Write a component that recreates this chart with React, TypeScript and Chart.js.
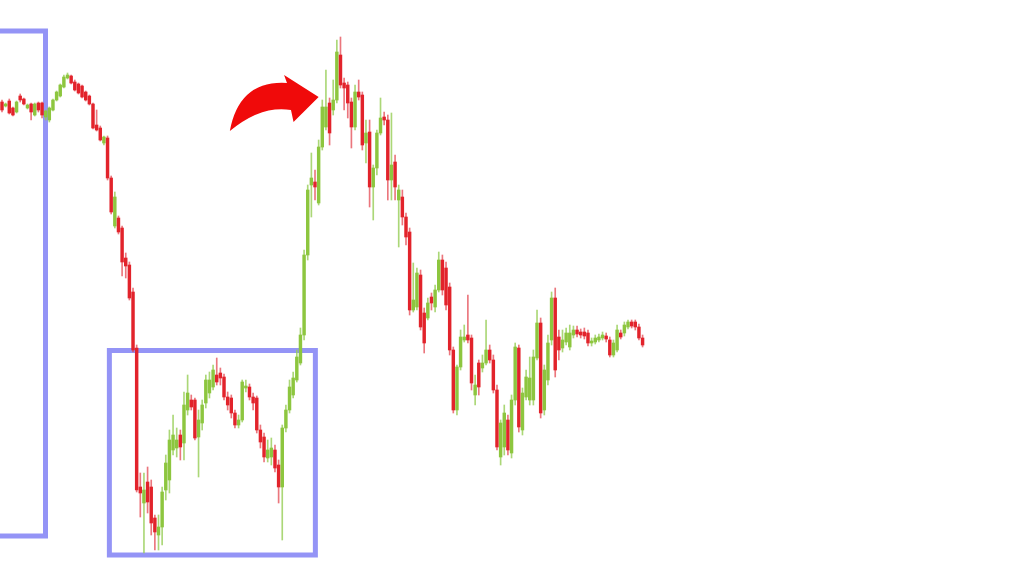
import { useEffect, useRef } from "react";
import { Chart, registerables } from "chart.js";

Chart.register(...registerables);

// Candle values (price units), left to right
const opens = [
  468, 464, 469, 462, 458, 474, 471, 462, 466, 455, 467, 467, 453, 450, 460, 470, 474, 483, 492, 494,
  488, 486, 484, 478, 474, 466, 445, 442, 427, 432, 392, 344, 352, 342, 312, 305, 278, 222, 83, 67,
  88, 83, 52, 35, 43, 80, 90, 120, 122, 135, 127, 160, 170, 170, 133, 147, 167, 177, 183, 195,
  197, 193, 173, 172, 157, 145, 150, 182, 183, 173, 172, 140, 133, 112, 113, 120, 105, 83, 142, 160,
  175, 190, 207, 235, 315, 385, 388, 367, 423, 443, 467, 460, 470, 515, 487, 485, 468, 443, 478, 475,
  427, 438, 383, 402, 437, 453, 450, 390, 408, 370, 373, 353, 338, 260, 263, 295, 257, 252, 273, 263,
  280, 310, 302, 283, 220, 160, 203, 230, 235, 232, 175, 207, 202, 207, 220, 210, 180, 113, 123, 150,
  117, 170, 222, 140, 173, 170, 170, 212, 247, 160, 190, 230, 272, 233, 222, 228, 223, 235, 240, 238,
  238, 237, 227, 228, 230, 232, 234, 230, 215, 220, 237, 237, 243, 248, 248, 243, 232,
];
const highs = [
  470, 467, 471, 463, 469, 476, 472, 466, 467, 467, 468, 468, 460, 463, 471, 479, 486, 495, 497, 495,
  490, 487, 485, 479, 475, 467, 460, 444, 434, 434, 394, 378, 354, 344, 317, 308, 282, 225, 97, 97,
  103, 90, 55, 55, 83, 115, 140, 155, 142, 140, 178, 195, 175, 172, 160, 170, 195, 198, 205, 212,
  202, 196, 178, 175, 160, 155, 190, 190, 186, 177, 174, 145, 137, 130, 132, 125, 110, 145, 165, 190,
  198, 220, 242, 320, 385, 417, 400, 430, 470, 500, 472, 490, 530, 533, 492, 488, 472, 485, 490, 478,
  450, 450, 405, 440, 472, 458, 455, 457, 415, 385, 380, 357, 342, 307, 302, 300, 262, 272, 277, 285,
  318, 315, 308, 287, 223, 205, 240, 245, 275, 235, 195, 210, 215, 250, 225, 215, 185, 150, 165, 155,
  175, 227, 225, 182, 200, 213, 220, 260, 252, 205, 235, 278, 282, 240, 240, 242, 245, 244, 244, 241,
  242, 240, 232, 235, 236, 238, 237, 233, 230, 245, 240, 248, 250, 250, 250, 246, 235,
];
const lows = [
  458, 463, 456, 454, 457, 468, 465, 461, 450, 454, 458, 452, 450, 448, 459, 469, 473, 482, 491, 486,
  479, 476, 472, 469, 465, 441, 439, 429, 425, 390, 356, 342, 336, 294, 292, 270, 218, 78, 53, 17,
  57, 35, 20, 20, 25, 70, 77, 115, 113, 110, 110, 155, 160, 130, 93, 140, 162, 172, 180, 185,
  185, 170, 160, 152, 142, 142, 148, 178, 170, 160, 137, 122, 108, 108, 105, 98, 67, 30, 138, 157,
  172, 188, 205, 230, 310, 353, 370, 365, 420, 440, 425, 455, 467, 482, 460, 452, 422, 440, 470, 420,
  407, 363, 350, 395, 435, 445, 370, 370, 370, 323, 345, 325, 255, 258, 260, 240, 217, 250, 260, 258,
  278, 275, 260, 215, 157, 155, 200, 228, 227, 180, 165, 175, 198, 205, 207, 177, 120, 105, 115, 115,
  112, 165, 138, 135, 170, 165, 165, 210, 152, 155, 185, 225, 193, 210, 218, 225, 220, 232, 233, 232,
  231, 224, 224, 226, 228, 230, 228, 213, 213, 218, 231, 234, 241, 242, 240, 230, 223,
];
const closes = [
  460, 466, 457, 455, 468, 470, 466, 465, 458, 466, 460, 455, 459, 462, 470, 478, 485, 493, 495, 487,
  480, 477, 473, 470, 466, 442, 440, 430, 433, 392, 358, 373, 338, 308, 304, 272, 220, 80, 77, 80,
  68, 47, 38, 43, 78, 107, 130, 135, 130, 123, 165, 177, 163, 132, 150, 165, 190, 190, 200, 188,
  192, 173, 165, 157, 145, 150, 188, 184, 173, 167, 140, 128, 113, 120, 122, 102, 83, 142, 160, 183,
  192, 213, 235, 315, 380, 392, 383, 423, 463, 463, 437, 470, 518, 485, 482, 467, 443, 478, 473, 425,
  437, 383, 402, 437, 452, 450, 390, 405, 383, 380, 353, 333, 260, 270, 297, 243, 227, 267, 267, 280,
  310, 280, 265, 220, 160, 203, 233, 233, 230, 187, 185, 183, 207, 220, 210, 180, 123, 147, 157, 120,
  170, 223, 143, 177, 193, 192, 213, 247, 157, 200, 227, 272, 200, 220, 230, 237, 237, 240, 236, 235,
  234, 227, 229, 232, 233, 235, 231, 215, 227, 240, 233, 245, 248, 244, 243, 232, 225,
];

// Annotation boxes in data units: [xFrom, xTo, priceTop, priceBottom]
const boxes = [
  [-3, 11.95, 539, 34],
  [29.5, 86.1, 219.5, 15],
];

// Curved arrow outline in data units
const arrowTail = [62.6, 439];
const arrowUpperCtrl = [65.2, 490];
const arrowUpperEnd = [78.3, 487];
const arrowHeadTop = [77.5, 495];
const arrowTip = [87.0, 473];
const arrowHeadBottom = [80.1, 448];
const arrowInner = [79.4, 460];
const arrowLowerCtrl = [71.2, 465];

const UP = "#8DC63F";
const DOWN = "#E2232B";
const UP_WICK = "rgba(150,205,85,0.8)";
const DOWN_WICK = "rgba(226,60,70,0.7)";
const BOX = "#9494F6";
const ARROW = "#F00A0A";

const annotationPlugin = {
  id: "annotations",
  beforeDatasetsDraw(chart: any) {
    const { ctx, scales } = chart;
    const xs = scales.x;
    const ys = scales.y;
    ctx.save();
    ctx.strokeStyle = BOX;
    ctx.lineWidth = 5;
    boxes.forEach(([x1, x2, t, b]) => {
      const px1 = xs.getPixelForValue(x1);
      const px2 = xs.getPixelForValue(x2);
      const py1 = ys.getPixelForValue(t);
      const py2 = ys.getPixelForValue(b);
      ctx.strokeRect(px1, py1, px2 - px1, py2 - py1);
    });
    ctx.restore();
  },
  afterDraw(chart: any) {
    const { ctx, scales } = chart;
    const P = (p: number[]) => [scales.x.getPixelForValue(p[0]), scales.y.getPixelForValue(p[1])];
    const t = P(arrowTail);
    const uc = P(arrowUpperCtrl);
    const ue = P(arrowUpperEnd);
    const ht = P(arrowHeadTop);
    const tip = P(arrowTip);
    const hb = P(arrowHeadBottom);
    const inn = P(arrowInner);
    const lc = P(arrowLowerCtrl);
    ctx.save();
    ctx.fillStyle = ARROW;
    ctx.beginPath();
    ctx.moveTo(t[0], t[1]);
    ctx.quadraticCurveTo(uc[0], uc[1], ue[0], ue[1]);
    ctx.lineTo(ht[0], ht[1]);
    ctx.lineTo(tip[0], tip[1]);
    ctx.lineTo(hb[0], hb[1]);
    ctx.lineTo(inn[0], inn[1]);
    ctx.quadraticCurveTo(lc[0], lc[1], t[0], t[1]);
    ctx.closePath();
    ctx.fill();
    ctx.restore();
  },
};

export default function App() {
  const ref = useRef<HTMLCanvasElement | null>(null);

  useEffect(() => {
    if (!ref.current) return;
    const isUp = (i: number) => closes[i] >= opens[i];
    const bodies = opens.map((o, i) => ({ x: i, y: [o, closes[i]] }));
    const wicks = lows.map((l, i) => ({ x: i, y: [l, highs[i]] }));
    const chart = new Chart(ref.current, {
      type: "bar",
      data: {
        datasets: [
          {
            label: "wicks",
            data: wicks as any,
            backgroundColor: (c: any) => (c.dataIndex !== undefined && isUp(c.dataIndex) ? UP_WICK : DOWN_WICK),
            barThickness: 1,
            grouped: false,
            order: 2,
            minBarLength: 1,
            borderWidth: 0,
          } as any,
          {
            label: "bodies",
            data: bodies as any,
            backgroundColor: (c: any) => (c.dataIndex !== undefined && isUp(c.dataIndex) ? UP : DOWN),
            barThickness: 2.8,
            grouped: false,
            order: 1,
            minBarLength: 1.5,
            borderWidth: 0,
          } as any,
        ],
      },
      options: {
        animation: false,
        responsive: false,
        maintainAspectRatio: false,
        layout: { padding: 0 },
        plugins: { legend: { display: false }, tooltip: { enabled: false } },
        scales: {
          x: { type: "linear", min: -0.55, max: 280.8, display: false, offset: false },
          y: { type: "linear", min: 0, max: 570, display: false },
        },
      },
      plugins: [annotationPlugin],
    });
    return () => chart.destroy();
  }, []);

  return (
    <div style={{ position: "fixed", left: 0, top: 0, width: 1024, height: 570, background: "#fff" }}>
      <canvas ref={ref} width={1024} height={570} style={{ display: "block" }} />
    </div>
  );
}
